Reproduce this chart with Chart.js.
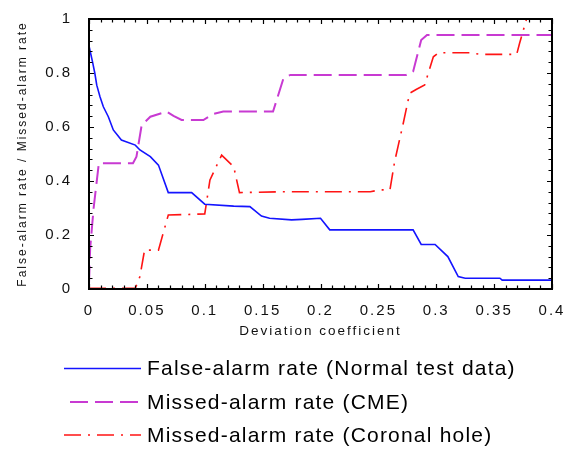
<!DOCTYPE html>
<html>
<head>
<meta charset="utf-8">
<script src="https://cdn.jsdelivr.net/npm/chart.js@4.4.1/dist/chart.umd.min.js"></script>
<style>
  html, body { margin: 0; padding: 0; background: #fff; }
  #wrap { width: 571px; height: 450px; }
</style>
</head>
<body>
<div id="wrap"><canvas id="mainChart" width="571" height="450"></canvas></div>
<script>
// Data
const falseAlarmX = [0, 0.003, 0.005, 0.0067, 0.0095, 0.0124, 0.0167, 0.021, 0.028, 0.040, 0.044, 0.053, 0.060, 0.0685, 0.0887, 0.100, 0.125, 0.139, 0.149, 0.156, 0.175, 0.184, 0.200, 0.208, 0.280, 0.287, 0.299, 0.310, 0.319, 0.325, 0.355, 0.357, 0.400];
const falseAlarmY = [0.90, 0.842, 0.80, 0.755, 0.712, 0.675, 0.638, 0.589, 0.552, 0.533, 0.515, 0.49, 0.459, 0.357, 0.357, 0.314, 0.307, 0.305, 0.27, 0.262, 0.256, 0.258, 0.262, 0.219, 0.219, 0.165, 0.165, 0.12, 0.046, 0.04, 0.04, 0.033, 0.033];

const cmeX = [0, 0.001, 0.004, 0.0085, 0.038, 0.041, 0.0455, 0.053, 0.067, 0.073, 0.080, 0.0988, 0.107, 0.116, 0.159, 0.168, 0.174, 0.274, 0.280, 0.287, 0.292, 0.400];
const cmeY = [0.02, 0.15, 0.30, 0.466, 0.466, 0.49, 0.607, 0.638, 0.657, 0.641, 0.626, 0.626, 0.648, 0.657, 0.657, 0.78, 0.793, 0.793, 0.805, 0.922, 0.941, 0.941];

const holeX = [0, 0.040, 0.044, 0.048, 0.060, 0.0685, 0.100, 0.1045, 0.1146, 0.125, 0.130, 0.165, 0.243, 0.251, 0.260, 0.264, 0.2715, 0.277, 0.283, 0.290, 0.2975, 0.302, 0.329, 0.338, 0.3695, 0.372, 0.378];
const holeY = [0.003, 0.003, 0.046, 0.144, 0.144, 0.274, 0.278, 0.404, 0.496, 0.453, 0.357, 0.36, 0.36, 0.367, 0.367, 0.471, 0.614, 0.725, 0.74, 0.756, 0.86, 0.875, 0.875, 0.869, 0.869, 0.91, 1.0];

const seriesLabels = ['False-alarm rate (Normal test data)', 'Missed-alarm rate (CME)', 'Missed-alarm rate (Coronal hole)'];
const xTickValues = [0, 0.05, 0.1, 0.15, 0.2, 0.25, 0.3, 0.35, 0.4];
const yTickValues = [0, 0.2, 0.4, 0.6, 0.8, 1];

const FONT = "'Liberation Sans', Arial, sans-serif";

function toPoints(xs, ys) {
    return xs.map((x, i) => ({ x: x, y: ys[i] }));
}

// letter spacing for the axis text (reference font is widely spaced)
const spacingPlugin = {
    id: 'spacing',
    beforeLayout(chart) { chart.ctx.letterSpacing = '2px'; },
    beforeDraw(chart) { chart.ctx.letterSpacing = '2px'; }
};

// Frame with inward ticks on all four sides
const framePlugin = {
    id: 'frame',
    afterDatasetsDraw(chart) {
        const { ctx, chartArea: a, scales: { x, y } } = chart;
        ctx.save();
        ctx.strokeStyle = '#000';
        ctx.lineWidth = 2;
        ctx.setLineDash([]);
        ctx.strokeRect(a.left, a.top, a.right - a.left, a.bottom - a.top);

        ctx.lineWidth = 1.2;
        ctx.beginPath();
        for (let i = 0; i <= 40; i++) {
            const px = Math.round(x.getPixelForValue(i * 0.01)) + 0.5;
            const len = i % 5 === 0 ? 5 : 3.5;
            ctx.moveTo(px, a.bottom); ctx.lineTo(px, a.bottom - len);
            ctx.moveTo(px, a.top); ctx.lineTo(px, a.top + len);
        }
        for (let i = 0; i <= 25; i++) {
            const py = Math.round(y.getPixelForValue(i * 0.04)) + 0.5;
            const len = i % 5 === 0 ? 5 : 3.5;
            ctx.moveTo(a.left, py); ctx.lineTo(a.left + len, py);
            ctx.moveTo(a.right, py); ctx.lineTo(a.right - len, py);
        }
        ctx.stroke();
        ctx.restore();
    }
};

// Legend drawn below the plot, one row per series
const legendPlugin = {
    id: 'bottomLegend',
    afterDraw(chart) {
        const { ctx } = chart;
        const rows = [368.5, 402, 435];
        ctx.save();
        chart.data.datasets.forEach((ds, i) => {
            const yy = rows[i];
            ctx.beginPath();
            ctx.strokeStyle = ds.borderColor;
            ctx.lineWidth = ds.borderWidth;
            ctx.setLineDash(ds.borderDash || []);
            ctx.lineDashOffset = i === 1 ? 19 : 0;
            ctx.moveTo(64, yy);
            ctx.lineTo(141, yy);
            ctx.stroke();

            ctx.setLineDash([]);
            ctx.letterSpacing = '1.2px';
            ctx.fillStyle = '#000';
            ctx.font = "21px " + FONT;
            ctx.textBaseline = 'middle';
            ctx.textAlign = 'left';
            ctx.fillText(ds.label, 147, yy + 1);
        });
        ctx.restore();
    }
};

new Chart(document.getElementById('mainChart'), {
    type: 'line',
    data: {
        datasets: [
            {
                label: seriesLabels[0],
                data: toPoints(falseAlarmX, falseAlarmY),
                borderColor: '#1414ff',
                borderWidth: 1.6
            },
            {
                label: seriesLabels[1],
                data: toPoints(cmeX, cmeY),
                borderColor: '#c83ad2',
                borderWidth: 2,
                borderDash: [18, 7]
            },
            {
                label: seriesLabels[2],
                data: toPoints(holeX, holeY),
                borderColor: '#ff1414',
                borderWidth: 1.6,
                borderDash: [17, 7, 2, 7]
            }
        ]
    },
    options: {
        responsive: false,
        animation: false,
        devicePixelRatio: 1,
        elements: { point: { radius: 0 }, line: { tension: 0, fill: false } },
        layout: { padding: { left: 4, right: 19, top: 19, bottom: 106 } },
        plugins: { legend: { display: false }, tooltip: { enabled: false } },
        scales: {
            x: {
                type: 'linear',
                min: 0, max: 0.4,
                grid: { display: false },
                border: { display: false },
                afterBuildTicks: s => { s.ticks = xTickValues.map(v => ({ value: v })); },
                afterFit: s => { s.height = 55; },
                ticks: {
                    autoSkip: false, maxRotation: 0, padding: 5,
                    color: '#111',
                    font: { family: FONT, size: 15 },
                    callback: v => String(v)
                },
                title: {
                    display: true, text: 'Deviation coefficient',
                    color: '#111',
                    font: { family: FONT, size: 13.5 },
                    padding: { top: 0, bottom: 5 }
                }
            },
            y: {
                type: 'linear',
                min: 0, max: 1,
                grid: { display: false },
                border: { display: false },
                afterBuildTicks: s => { s.ticks = yTickValues.map(v => ({ value: v })); },
                afterFit: s => { s.width = 85; },
                ticks: {
                    autoSkip: false, padding: 9,
                    color: '#111',
                    font: { family: FONT, size: 15 },
                    callback: v => String(v)
                },
                title: {
                    display: true, text: 'False-alarm rate / Missed-alarm rate',
                    color: '#111',
                    font: { family: FONT, size: 12 },
                    padding: { top: 11, bottom: 0 }
                }
            }
        }
    },
    plugins: [spacingPlugin, framePlugin, legendPlugin]
});
</script>
</body>
</html>
